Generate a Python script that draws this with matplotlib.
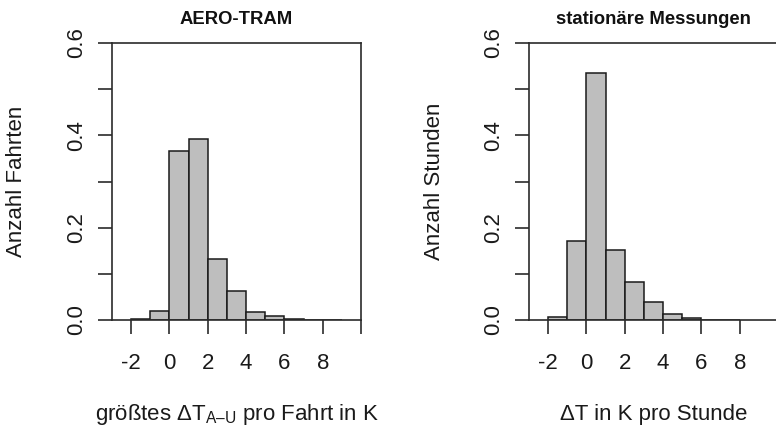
import numpy as np
import matplotlib
matplotlib.use("Agg")
import matplotlib.pyplot as plt

plt.rcParams['font.family'] = ['Liberation Sans', 'DejaVu Sans']
plt.rcParams['mathtext.fontset'] = 'custom'
plt.rcParams['mathtext.rm'] = 'Liberation Sans'
plt.rcParams['mathtext.it'] = 'Liberation Sans:italic'

# Relative frequencies per 1 K bin (left bin edges)
tram_bin_left = [-2, -1, 0, 1, 2, 3, 4, 5, 6, 7, 8]
tram_freq = [0.003, 0.019, 0.365, 0.393, 0.133, 0.062, 0.017, 0.008, 0.003, 0.001, 0.0005]

stat_bin_left = [-2, -1, 0, 1, 2, 3, 4, 5, 6, 7]
stat_freq = [0.007, 0.172, 0.534, 0.152, 0.083, 0.038, 0.014, 0.004, 0.001, 0.0005]

x_ticks = [-2, 0, 2, 4, 6, 8, 10]
x_ticklabels = ['-2', '0', '2', '4', '6', '8', '']
y_ticks = [0.0, 0.1, 0.2, 0.3, 0.4, 0.5, 0.6]
y_ticklabels = ['0.0', '', '0.2', '', '0.4', '', '0.6']

titles = ['AERO-TRAM', 'stationäre Messungen']
ylabels = ['Anzahl Fahrten', 'Anzahl Stunden']
xlabels = ['größtes ΔT$_{\\mathrm{A–U}}$ pro Fahrt in K', 'ΔT in K pro Stunde']

W, H = 776, 428
fig = plt.figure(figsize=(W / 100, H / 100), dpi=100)

line_col = '#2b2b2b'
bar_col = '#bebebe'


def px_axes(x0, x1, y0, y1):
    return fig.add_axes([x0 / W, 1 - y1 / H, (x1 - x0) / W, (y1 - y0) / H])


panels = [
    (px_axes(112, 361, 43, 320), tram_bin_left, tram_freq, 17, 236.5),
    (px_axes(529, 778, 43, 320), stat_bin_left, stat_freq, 435, 653.5),
]

for i, (ax, edges, freq, ylab_x, cx) in enumerate(panels):
    ax.bar(edges, freq, width=1.0, align='edge', color=bar_col,
           edgecolor='#1a1a1a', linewidth=1.1, zorder=2)
    ax.set_xlim(-3, 10)
    ax.set_ylim(0, 0.6)
    ax.set_xticks(x_ticks)
    ax.set_xticklabels(x_ticklabels)
    ax.set_yticks(y_ticks)
    ax.set_yticklabels(y_ticklabels, rotation=90, va='center')
    for sp in ax.spines.values():
        sp.set_color(line_col)
        sp.set_linewidth(1.2)
    ax.tick_params(axis='both', direction='out', length=10, width=1.2,
                   color=line_col, labelsize=16, labelcolor='#1a1a1a')
    ax.tick_params(axis='x', pad=14)
    ax.tick_params(axis='y', pad=8)

    fig.text(cx / W, 1 - 24 / H, titles[i], ha='center', va='baseline',
             fontsize=13.3, fontweight='bold', color='#111111')
    fig.text(ylab_x / W, 1 - 181.5 / H, ylabels[i], rotation=90,
             ha='center', va='center', fontsize=16, color='#1a1a1a')
    fig.text(cx / W, 1 - 420 / H, xlabels[i], ha='center', va='baseline',
             fontsize=16, color='#1a1a1a')

fig.savefig('out.png', dpi=100)
